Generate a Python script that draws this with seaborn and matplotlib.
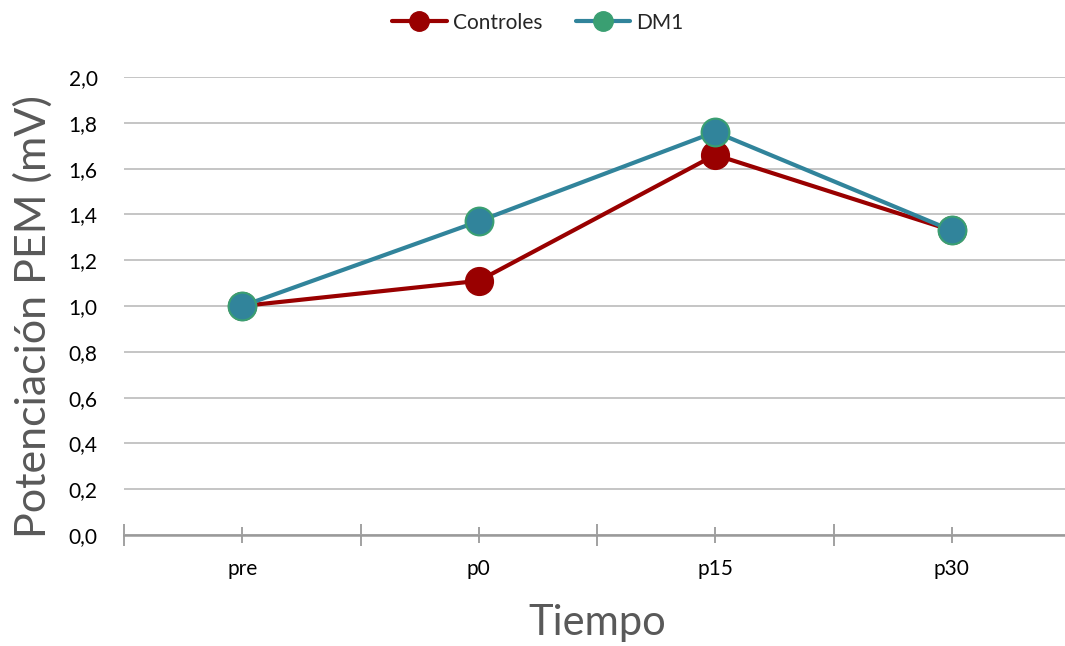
import pandas as pd
import seaborn as sns
import matplotlib.pyplot as plt
from matplotlib.lines import Line2D
from matplotlib.ticker import FuncFormatter

# data
tiempos = ['pre', 'p0', 'p15', 'p30']
controles = [1.00, 1.11, 1.66, 1.33]
dm1 = [1.00, 1.37, 1.76, 1.33]

df_c = pd.DataFrame({'Tiempo': tiempos, 'valor': controles})
df_d = pd.DataFrame({'Tiempo': tiempos, 'valor': dm1})

red = '#990000'
teal = '#31849B'
green = '#3A9F72'
gray = '#595959'

sns.set_theme(style='white')
plt.rcParams['font.family'] = ['Lato', 'DejaVu Sans']

fig = plt.figure(figsize=(10.65, 6.46), dpi=100)
ax = fig.add_axes([124 / 1065, 111 / 646, 946 / 1065, 458 / 646])

sns.lineplot(data=df_c, x='Tiempo', y='valor', ax=ax, color=red, lw=3,
             marker='o', markersize=20, markerfacecolor=red, markeredgecolor=red,
             markeredgewidth=1, sort=False, clip_on=False, zorder=3)
sns.lineplot(data=df_d, x='Tiempo', y='valor', ax=ax, color=teal, lw=3,
             marker='o', markersize=20, markerfacecolor=teal, markeredgecolor=green,
             markeredgewidth=1.5, sort=False, clip_on=False, zorder=4)

ax.set_xlim(-0.5, 3.5)
ax.set_ylim(0, 2.0)
ax.set_yticks([i / 10 for i in range(0, 21, 2)])
ax.yaxis.set_major_formatter(FuncFormatter(lambda v, p: f'{v:.1f}'.replace('.', ',')))
ax.grid(axis='y', color='#C0C0C0', lw=1.3)
ax.set_axisbelow(True)

for s in ['top', 'right', 'left']:
    ax.spines[s].set_visible(False)
ax.spines['bottom'].set_color('#9A9A9A')
ax.spines['bottom'].set_linewidth(1.8)

ax.set_xticks([-0.5, 0.5, 1.5, 2.5, 3.5], minor=True)
ax.tick_params(axis='x', which='both', bottom=True)
ax.tick_params(axis='x', which='minor', direction='inout', length=16, width=1.3, color='#9A9A9A')
ax.tick_params(axis='x', which='major', direction='inout', length=11, width=1.3, color='#9A9A9A',
               labelsize=15, pad=12, labelcolor='black')
ax.tick_params(axis='y', length=0, labelsize=15, pad=19, labelcolor='black')

ax.set_xlabel('Tiempo', fontsize=30, color=gray, labelpad=18)
ax.set_ylabel('Potenciación PEM (mV)', fontsize=31, color=gray)
ax.yaxis.set_label_coords(-0.075, 0.476)

handles = [
    Line2D([], [], color=red, lw=3, marker='o', markersize=14,
           markerfacecolor=red, markeredgecolor=red),
    Line2D([], [], color=teal, lw=3, marker='o', markersize=14,
           markerfacecolor=green, markeredgecolor=green),
]
fig.legend(handles, ['Controles', 'DM1'], loc='center', bbox_to_anchor=(0.505, 0.965),
           ncol=2, frameon=False, fontsize=15, handlelength=2.6, handletextpad=0.3,
           columnspacing=1.6)

fig.savefig('out.png', dpi=100)
